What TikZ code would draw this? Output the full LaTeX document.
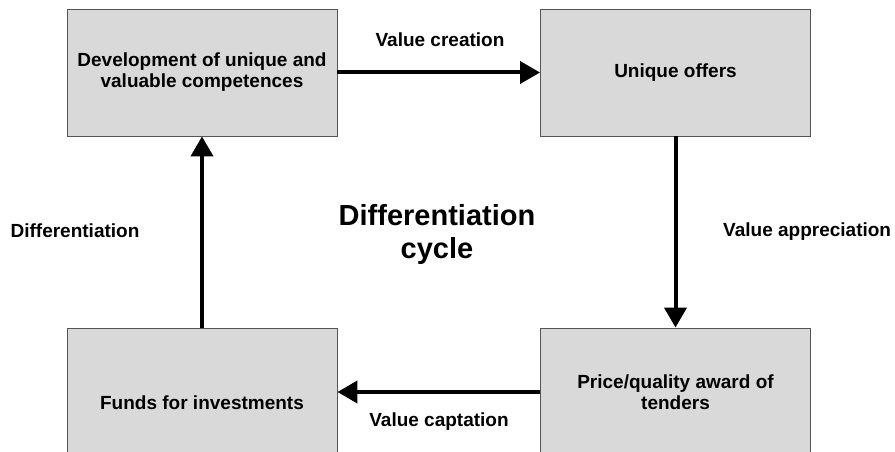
\documentclass[tikz,border=0pt]{standalone}
\usepackage{fontspec}
\setmainfont{Liberation Sans}
\usetikzlibrary{arrows.meta}
\definecolor{boxgray}{HTML}{D9D9D9}
\definecolor{edgegray}{HTML}{555555}
\begin{document}
\begin{tikzpicture}[x=1pt,y=-1pt,
  box/.style={draw=edgegray, line width=0.9pt, fill=boxgray, minimum width=270pt, inner sep=0pt, align=center, font=\bfseries\fontsize{19}{21}\selectfont},
  flow/.style={line width=4pt, -{Triangle[length=20pt,width=22pt]}, shorten >=0pt},
  lbl/.style={font=\bfseries\fontsize{19}{21}\selectfont, inner sep=0pt},
  big/.style={font=\bfseries\fontsize{29}{33}\selectfont, inner sep=0pt, align=center}]
\useasboundingbox (0,0) rectangle (895,452);
\clip (0,0) rectangle (895,452);
\node[box, minimum height=127pt] (tl) at (202,72.5) {Development of unique and\\valuable competences};
\node[box, minimum height=127pt] (tr) at (675.5,72.5) {Unique offers};
\node[box, minimum height=150pt] (bl) at (202,403) {Funds for investments};
\node[box, minimum height=128pt] (br) at (675.5,392) {Price/quality award of\\tenders};
\draw[flow] (tl.east) -- (tr.west);
\draw[flow] (tr.south) -- (br.north);
\draw[flow] (br.west) -- (bl.east |- br.west);
\draw[flow] (bl.north) -- (tl.south);
\node[lbl] (vc) at (440,40) {Value creation};
\node[lbl, anchor=west] (va) at (723,232) {Value appreciation};
\node[lbl] (vcap) at (439,422) {Value captation};
\node[lbl] (dif) at (75,231) {Differentiation};
\node[big] (cyc) at (437,235) {Differentiation\\cycle};
\end{tikzpicture}
\end{document}
